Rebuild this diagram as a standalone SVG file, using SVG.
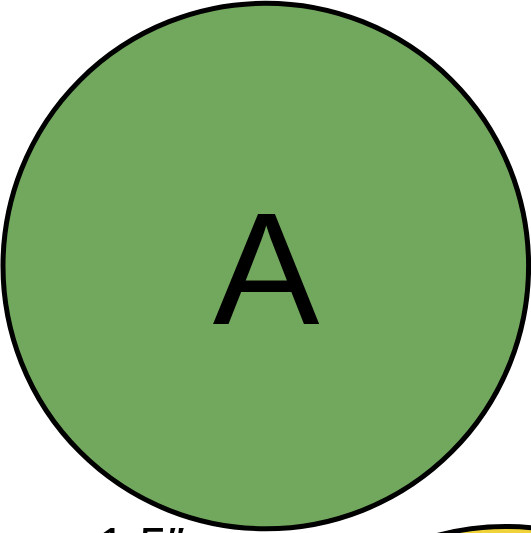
<svg xmlns="http://www.w3.org/2000/svg" width="531" height="533" viewBox="0 0 531 533">
<style>
.node circle{stroke:#000;stroke-width:5}
.lbl{font-family:"Liberation Sans",Arial,sans-serif;fill:#000}
</style>
<rect width="531" height="533" fill="#fff"/>
<g id="connectors"></g>
<g id="node-A" class="node">
<circle cx="265.8" cy="266" r="262.8" fill="#72a85e"/>
<text class="lbl" x="266" y="324" font-size="160" text-anchor="middle">A</text>
</g>
<g id="node-B" class="node">
<circle cx="505.5" cy="789.5" r="263" fill="#f0d33a"/>
</g>
<g id="label-scale">
<text class="lbl" x="97.5" y="562.5" font-size="50">1.5″</text>
</g>
</svg>
